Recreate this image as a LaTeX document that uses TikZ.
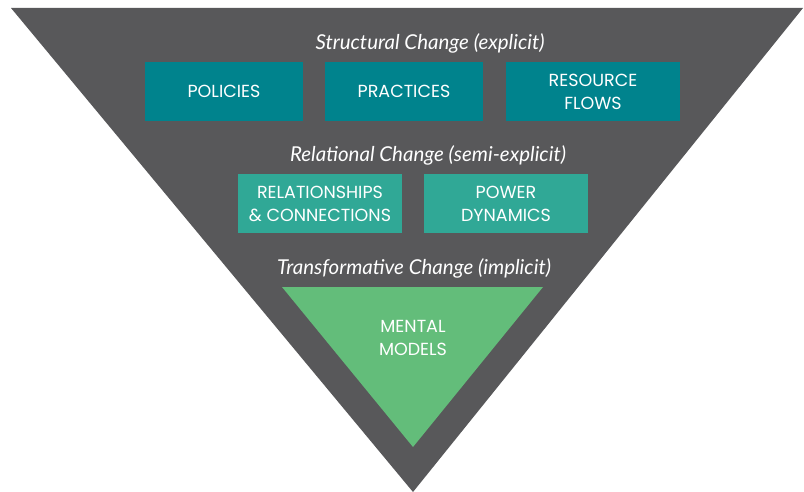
\documentclass[tikz,border=0pt]{standalone}
\usepackage{fontspec}
\setmainfont{Poppins}
\newfontfamily\titlefont{Lato}
\definecolor{pyrgray}{HTML}{58585A}
\definecolor{structteal}{HTML}{00838D}
\definecolor{relteal}{HTML}{30A896}
\definecolor{mentalgreen}{HTML}{63BD7A}
\begin{document}
\begin{tikzpicture}[x=1pt,y=-1pt,
  levelbox/.style={minimum width=158pt,minimum height=59pt,inner sep=0pt,
    text=white,align=center,font=\fontsize{17.5}{23}\selectfont},
  leveltitle/.style={text=white,font=\titlefont\itshape\fontsize{20.5}{24}\selectfont,inner sep=0pt}]
\useasboundingbox (0,0) rectangle (804,492);
\fill[white] (0,0) rectangle (804,492);
% outer inverted pyramid
\fill[pyrgray] (11,8) -- (803,8) -- (413,492) -- cycle;
% structural level
\node[leveltitle] (t1) at (430,43) {Structural Change (explicit)};
\node[levelbox,fill=structteal] (policies) at (224,91.5) {POLICIES};
\node[levelbox,fill=structteal] (practices) at (404,91.5) {PRACTICES};
\node[levelbox,fill=structteal,minimum width=174pt] (resources) at (593,91.5) {RESOURCE\\FLOWS};
% relational level
\node[leveltitle] (t2) at (428,155) {Relational Change (semi-explicit)};
\node[levelbox,fill=relteal,minimum width=164pt] (relations) at (320,203.5) {RELATIONSHIPS\\\& CONNECTIONS};
\node[levelbox,fill=relteal,minimum width=164pt] (power) at (506,203.5) {POWER\\DYNAMICS};
% transformative level
\node[leveltitle] (t3) at (414,268) {Transformative Change (implicit)};
\fill[mentalgreen] (282,287) -- (543,287) -- (413,447) -- cycle;
\node[text=white,align=center,font=\fontsize{17.5}{23}\selectfont] (mental) at (413,338) {MENTAL\\MODELS};
\end{tikzpicture}
\end{document}
